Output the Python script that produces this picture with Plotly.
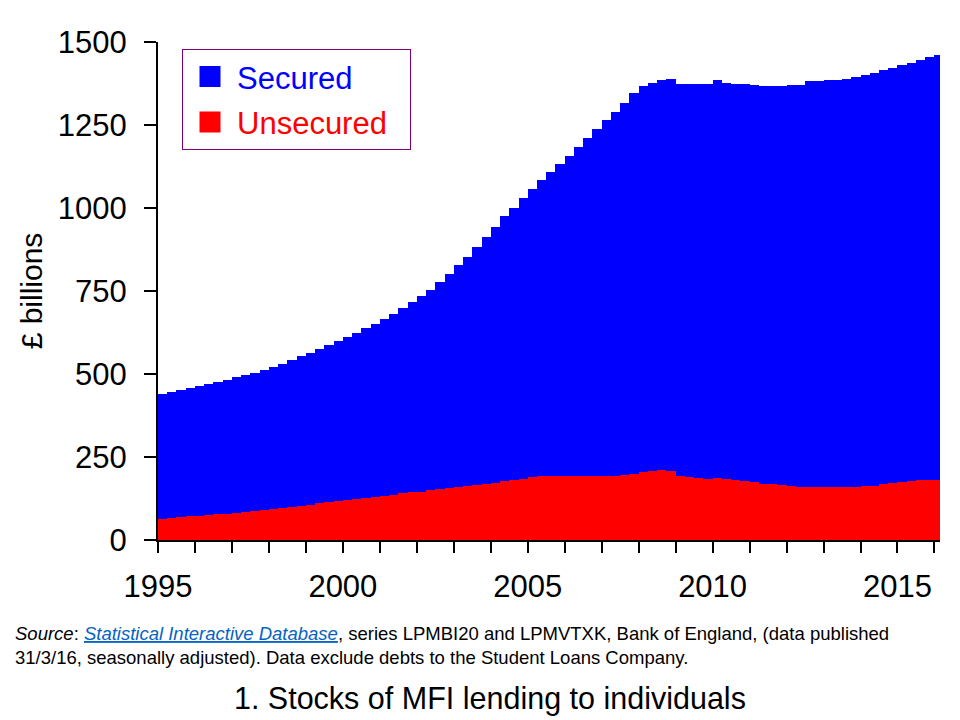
import plotly.graph_objects as go

# quarterly stocks, £ billions, 1995 Q1 .. 2016 Q1
start_year = 1995
secured = [
    377, 380, 382, 386,  # 1995
    391, 395, 399, 404,  # 1996
    408, 413, 417, 422,  # 1997
    428, 433, 441, 450,  # 1998
    459, 466, 475, 484,  # 1999
    492, 502, 512, 522,  # 2000
    533, 545, 559, 573,  # 2001
    589, 604, 623, 644,  # 2002
    666, 688, 715, 744,  # 2003
    771, 797, 820, 844,  # 2004
    867, 891, 915, 940,  # 2005
    965, 991, 1018, 1045,  # 2006
    1071, 1095, 1121, 1147,  # 2007
    1163, 1170, 1177, 1182,  # 2008
    1182, 1183, 1185, 1190,  # 2009
    1198, 1194, 1193, 1196,  # 2010
    1195, 1197, 1199, 1202,  # 2011
    1207, 1211, 1223, 1224,  # 2012
    1225, 1226, 1230, 1235,  # 2013
    1238, 1244, 1247, 1251,  # 2014
    1258, 1260, 1266, 1275,  # 2015
    1280,  # 2016
]
unsecured = [
    64, 66, 69, 71,
    72, 74, 77, 79,
    82, 84, 87, 90,
    93, 96, 100, 103,
    105, 110, 113, 116,
    120, 123, 126, 129,
    132, 137, 141, 145,
    146, 150, 154, 158,
    161, 164, 167, 169,
    173, 178, 181, 185,
    190, 192, 193, 193,
    193, 193, 193, 193,
    193, 193, 196, 199,
    205, 208, 210, 208,
    193, 190, 188, 183,
    187, 183, 180, 177,
    175, 170, 168, 165,
    163, 161, 160, 160,
    160, 160, 160, 160,
    162, 164, 168, 171,
    174, 178, 180, 181,
    181,
]
y_ticks = [0, 250, 500, 750, 1000, 1250, 1500]
x_labels = [1995, 2000, 2005, 2010, 2015]

quarters = [start_year + i * 0.25 for i in range(len(secured))]

FONT = "Arial, Liberation Sans, sans-serif"

fig = go.Figure()
fig.add_trace(go.Bar(x=quarters, y=unsecured, width=0.25, offset=0,
                     marker=dict(color="#FF0000", line=dict(width=0)),
                     showlegend=False, name="Unsecured"))
fig.add_trace(go.Bar(x=quarters, y=secured, width=0.25, offset=0,
                     marker=dict(color="#0000FF", line=dict(width=0)),
                     showlegend=False, name="Secured"))

# legend entries with big square swatches
fig.add_trace(go.Scatter(x=[None], y=[None], mode="markers", legendgroup="a",
                         marker=dict(symbol="square", size=22, color="#0000FF",
                                     line=dict(width=5, color="#0000FF")),
                         name="<span style='color:#0000FF'>Secured</span>"))
fig.add_trace(go.Scatter(x=[None], y=[None], mode="markers", legendgroup="b",
                         marker=dict(symbol="square", size=22, color="#FF0000",
                                     line=dict(width=5, color="#FF0000")),
                         name="<span style='color:#FF0000'>Unsecured</span>\u00a0\u00a0"))

source = ("<i>Source</i>: <a href='http://www.bankofengland.co.uk/boeapps/iadb/'>"
          "<span style='color:#0563C1;text-decoration:underline'><i>Statistical Interactive Database</i></span></a>"
          ", series LPMBI20 and LPMVTXK, Bank of England, (data published<br>"
          "31/3/16, seasonally adjusted). Data exclude debts to the Student Loans Company.")
fig.add_annotation(text=source, xref="paper", yref="paper", x=-0.1854, y=-0.163,
                   xanchor="left", yanchor="top", align="left", showarrow=False,
                   font=dict(family=FONT, size=18.5, color="black"))

fig.update_layout(
    width=960, height=720,
    margin=dict(l=150, r=28, t=34, b=188),
    plot_bgcolor="white", paper_bgcolor="white",
    barmode="stack", bargap=0,
    font=dict(family=FONT, color="black"),
    title=dict(text="1. Stocks of MFI lending to individuals", xref="container", yref="container",
               x=0.502, y=0.0417, xanchor="center", yanchor="middle",
               font=dict(family=FONT, size=30.5, color="black")),
    xaxis=dict(range=[1995, 2016.15], tickmode="array", tickvals=x_labels,
               ticktext=[str(v) for v in x_labels], ticks="outside", ticklen=11,
               tickwidth=2, tickcolor="black", showline=True, linecolor="black",
               linewidth=2, showgrid=False, zeroline=False,
               tickfont=dict(size=31), ticklabelstandoff=7,
               minor=dict(dtick=1, tick0=1995, ticks="outside", ticklen=11,
                          tickwidth=2, tickcolor="black", showgrid=False)),
    yaxis=dict(range=[0, 1500], tickvals=y_ticks, ticks="outside", ticklen=12,
               tickwidth=2, tickcolor="black", showline=True, linecolor="black",
               linewidth=2, showgrid=False, zeroline=False,
               tickfont=dict(size=31), ticklabelstandoff=11,
               title=dict(text="£ billions", font=dict(size=30), standoff=6)),
    legend=dict(x=0.0307, y=0.986, xanchor="left", yanchor="top",
                bordercolor="#7F007F", borderwidth=1, bgcolor="white",
                font=dict(size=31), traceorder="grouped", tracegroupgap=2,
                itemsizing="trace", itemwidth=44),
    showlegend=True,
)

fig.write_html("out.html")
